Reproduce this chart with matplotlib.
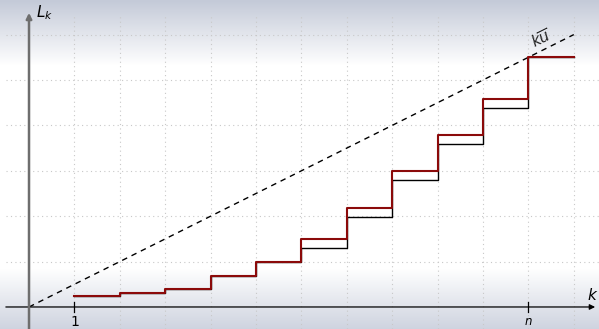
import numpy as np
import matplotlib.pyplot as plt

# Schrittfunktionen L_k für k = 1..n (n = 11), Einheit = ein Gitterfeld
k = np.arange(1, 13)
L_rot = [0.25, 0.30, 0.39, 0.68, 0.99, 1.49, 2.19, 2.99, 3.79, 4.59, 5.50]
L_schwarz = [0.25, 0.30, 0.39, 0.68, 0.99, 1.29, 1.99, 2.79, 3.59, 4.39, 5.50]
u_quer = 0.5
k_ende = 12
tick_pos = [1, 11]
tick_text = ['1', '$n$']

fig = plt.figure(figsize=(5.99, 3.29), dpi=100)
ax = fig.add_axes([0, 0, 1, 1])
ax.set_xlim(-0.639, 12.555)
ax.set_ylim(-0.485, 6.762)
ax.axis('off')

# Hintergrund: Verlauf oben und unten
h = 329
y = np.arange(h)
top = np.clip(1 - y / 65.0, 0, 1)
bot = np.clip((y - 268) / 61.0, 0, 1)
c_top = np.array([196, 202, 216]) / 255
c_bot = np.array([206, 211, 223]) / 255
img = np.ones((h, 1, 3))
img[:, 0, :] = (1 - top[:, None]) * img[:, 0, :] + top[:, None] * c_top
img[:, 0, :] = (1 - bot[:, None]) * img[:, 0, :] + bot[:, None] * c_bot
ax.imshow(img, extent=(-0.639, 12.555, -0.485, 6.762), aspect='auto', zorder=0)

# Gitter
for xv in range(1, 13):
    ax.plot([xv, xv], [-0.485, 6.43], ls=(0, (1, 3)), color='#c8c8c8', lw=0.8, zorder=1)
for yv in range(1, 7):
    ax.plot([-0.5, 12.555], [yv, yv], ls=(0, (1, 3)), color='#c8c8c8', lw=0.8, zorder=1)

# Achsen mit Pfeilen
ax.annotate('', xy=(12.47, 0), xytext=(-0.51, 0),
            arrowprops=dict(arrowstyle='-|>', color='black', lw=0.9,
                            mutation_scale=8, shrinkA=0, shrinkB=0), zorder=3)
ax.annotate('', xy=(0, 6.48), xytext=(0, -0.485),
            arrowprops=dict(arrowstyle='-|>', color='#6e6e6e', lw=1.8,
                            mutation_scale=8, shrinkA=0, shrinkB=0), zorder=3)
ax.text(0.16, 6.48, '$L_k$', fontsize=11, ha='left', va='center')
ax.text(12.29, 0.08, '$k$', fontsize=11, ha='left', va='bottom')

for xv, t in zip(tick_pos, tick_text):
    ax.plot([xv, xv], [-0.1, 0.1], color='black', lw=0.9, zorder=4)
    ax.text(xv, -0.18, t, fontsize=10 if t == '1' else 8.5, ha='center', va='top')

# Gerade k*u_quer
kk = np.array([0, k_ende])
ax.plot(kk, u_quer * kk, ls=(0, (4, 3.5)), color='black', lw=1.0, zorder=2)
ax.text(11.3, 5.9, r'$k\overline{u}$', fontsize=11, rotation=26.6,
        ha='center', va='center', color='#222222')

# Treppenfunktionen
ax.step(k, L_schwarz + [L_schwarz[-1]], where='post', color='black', lw=1.0, zorder=5)
ax.step(k, L_rot + [L_rot[-1]], where='post', color='#8b0a0a', lw=1.5, zorder=6)

plt.savefig('out.png', dpi=100)
